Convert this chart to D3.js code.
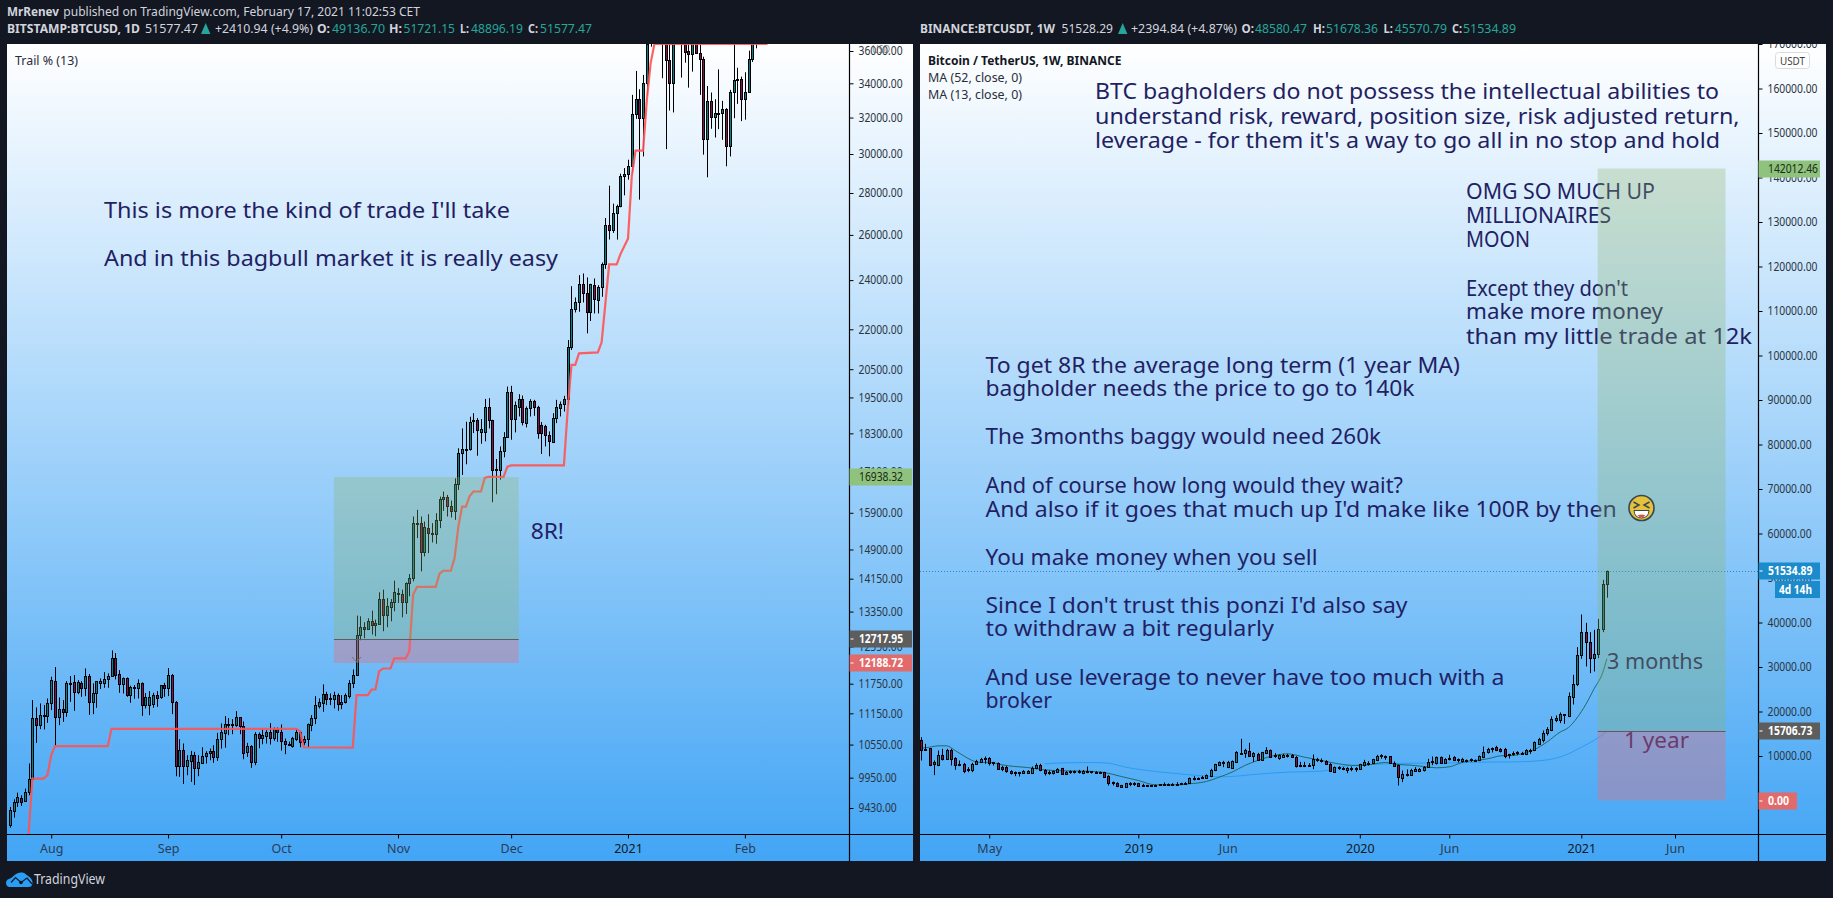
<!DOCTYPE html>
<html><head><meta charset="utf-8">
<style>html,body{margin:0;padding:0;background:#131722;overflow:hidden}svg{display:block}text{font-family:"Noto Sans",sans-serif}</style>
<script src="https://cdn.jsdelivr.net/npm/d3@7/dist/d3.min.js"></script>
</head><body><svg id="c" width="1833" height="898"></svg>
<script>
// ---------- DATA: daily BTCUSD (open, high, low, close), one row per day from dailyStart
const dailyStart = "2020-07-21";
const dailyOHLC = [
[9150,9448,9108,9392],[9381,9577,9271,9537],[9532,9690,9448,9622],[9605,9645,9465,9532],[9549,9759,9532,9707],[9702,10202,9645,9934],[9928,11414,9928,11049],[11049,11267,10582,10925],[10925,11347,10842,11108],[11095,11313,10836,11108],
[11101,11447,10964,11347],[11347,11896,11214,11825],[11797,12101,10538,11069],[11069,11467,10919,11227],[11233,11414,10983,11180],[11180,11804,11082,11756],[11756,11910,11380,11770],[11777,11931,11200,11584],[11584,11825,11535,11777],[11756,11804,11481,11666],
[11666,12072,11495,11910],[11910,11952,11121,11380],[11380,11756,11134,11563],[11563,11804,11260,11797],[11770,11860,11639,11797],[11770,11994,11666,11839],[11853,11966,11666,11910],[11917,12463,11896,12288],[12288,12405,11839,11938],[11945,12036,11563,11749],
[11749,11881,11549,11860],[11860,11881,11481,11522],[11522,11708,11360,11680],[11652,11722,11441,11680],[11652,11839,11447,11756],[11756,11777,11101,11320],[11320,11556,11247,11467],[11320,11597,11115,11467],[11333,11563,11260,11522],[11522,11597,11280,11454],
[11467,11722,11441,11715],[11715,11770,11481,11652],[11659,12079,11495,11924],[11924,11952,11134,11380],[11380,11394,9976,10166],[10166,10651,9964,10457],[10457,10570,9840,10166],[10160,10353,9993,10262],[10250,10433,9876,10360],[10366,10415,9823,10124],
[10124,10353,9976,10238],[10214,10500,10202,10347],[10341,10427,10202,10390],[10396,10476,10262,10439],[10439,10538,10214,10322],[10322,10772,10250,10663],[10657,10951,10476,10778],[10772,11095,10494,10951],[10925,11056,10727,10951],[10925,11036,10746,10951],
[10919,11193,10887,11069],[11069,11075,10746,10912],[10912,10990,10280,10396],[10415,10582,10322,10532],[10519,10538,10124,10232],[10232,10785,10172,10740],[10740,10778,10482,10683],[10676,10842,10557,10721],[10714,10823,10570,10785],[10785,10958,10551,10683],
[10683,10874,10620,10836],[10836,10874,10601,10778],[10778,10932,10439,10620],[10614,10663,10372,10563],[10538,10607,10525,10563],[10525,10695,10494,10670],[10663,10842,10620,10797],[10797,10810,10500,10601],[10601,10714,10538,10663],[10657,10951,10507,10938],
[10925,11115,10804,11056],[11049,11495,10938,11307],[11300,11447,11247,11367],[11360,11735,11180,11535],[11535,11584,11313,11434],[11434,11549,11313,11447],[11427,11584,11247,11515],[11515,11549,11200,11327],[11327,11515,11233,11373],[11367,11549,11347,11515],
[11502,11825,11447,11763],[11756,12050,11659,11924],[11929,13255,11922,12810],[12803,13238,12690,12990],[12990,13100,12735,12945],[12945,13192,12930,13130],[13130,13372,12818,13030],[13038,13161,12780,13076],[13061,13812,13046,13650],[13650,13877,12893,13270],
[13270,13674,12985,13475],[13460,13650,13123,13578],[13578,14100,13356,13820],[13796,13918,13554,13772],[13772,13877,13216,13578],[13570,14058,13293,14040],[14040,14267,13715,14166],[14166,15796,14083,15610],[15585,15983,15203,15610],[15610,15796,14335,14830],
[14830,15657,14718,15500],[15474,15860,14805,15337],[15337,15610,15088,15310],[15310,15889,15052,15685],[15685,16362,15474,16286],[16286,16508,15955,16343],[16343,16411,15796,16086],[16086,16248,15768,15964],[15964,16900,15703,16723],[16723,17823,16557,17665],
[17665,18460,17002,17792],[17781,18680,17325,17812],[17802,18845,17750,18657],[18690,18965,18310,18735],[18745,18800,17590,18417],[18352,18767,17967,18440],[18352,19450,18042,19168],[19168,19475,18460,18723],[18735,18745,16200,17142],[17182,17488,16430,17142],
[17142,17880,16860,17735],[17725,18340,17540,18180],[18180,19880,18150,19680],[19680,19905,18095,18767],[18767,19360,18330,19236],[19190,19612,18855,19440],[19440,19567,18560,18668],[18624,19190,18494,19156],[19156,19440,18855,19372],[19372,19418,18877,19168],
[19168,19214,18125,18298],[18560,18668,17644,18298],[18537,18580,17880,18233],[18244,18363,17570,18040],[18010,18965,17988,18800],[18800,19418,18635,19168],[19134,19360,18855,19270],[19260,19556,19020,19463],[19440,21585,19250,21335],[21335,23745,21209,22787],
[22787,23275,22665,23107],[23100,24212,22693,23816],[23816,24283,23070,23440],[23440,24113,21842,22693],[22693,23844,22325,23816],[23773,24070,22626,23220],[23165,23787,22626,23690],[23718,24760,23303,24675],[24716,26790,24485,26478],[26447,28366,25786,26245],
[26230,27478,26092,27028],[27028,27430,25786,27349],[27349,28975,27300,28870],[28870,29264,27885,28955],[28955,29700,28668,29370],[29370,33310,29007,32190],[32190,34752,31928,33075],[33075,33644,27673,31984],[31984,34507,29873,34003],[34043,37900,33270,36450],
[36600,37800,36277,37300],[38000,40000,37200,39500],[39500,41500,36800,40800],[40800,41900,34306,38000],[38200,39500,30260,35430],[35430,36450,32400,34003],[34003,37600,32290,36700],[37000,38500,36600,38000],[38000,39900,34345,37000],[36700,38000,35260,35960],
[35990,36450,33740,35790],[35790,37800,34710,36800],[36800,37500,35850,35850],[35850,36390,33310,35480],[35480,35640,29965,30790],[30790,33840,28790,32960],[32960,33450,31370,32059],[32059,33055,30890,32250],[32210,34850,31350,32250],[32250,32960,30765,32480],
[32480,32540,29355,30425],[30425,33605,29873,33470],[33470,36450,31965,34210],[34285,34950,32785,34245],[34265,34405,31797,33094],[33055,34670,31880,33490],[33490,36020,33430,35480],[35480,37500,35310,36900],[37000,38500,36170,38000]
];
// Trail % (13) stop line: day offset from dailyStart, and price
const trailDay = [5,6,9,10,11,12,26,27,76,77,78,91,92,95,96,97,98,99,101,102,105,106,107,108,113,114,115,117,118,119,120,121,122,123,125,126,127,131,132,133,147,148,149,150,151,156,157,159,161,162,164,165,166,168,169,170,171,201];
const trailPrice = [9000,9934,9934,9993,10353,10520,10520,10848,10848,10803,10500,10495,11516,11516,11630,11630,12014,12070,12070,12287,12287,12446,13755,13945,13945,14275,14350,14350,14675,15519,16077,16077,16380,16510,16510,16910,16945,16945,17250,17290,17290,19078,20660,20660,21085,21120,21500,24680,24680,25130,25830,28837,30180,30180,33020,35226,36450,36450];
// Weekly BTCUSDT (open, high, low, close), one row per week from weeklyStart
const weeklyStart = "2018-01-15";
const weeklyOHLC = [
[13484,14233,8990,11387],[11387,12735,11237,11536],[11761,11761,7717,7866],[8241,8990,5694,8616],[7866,11237,7717,10263],[10263,11611,8990,9215],[9215,11611,9140,11387],[11387,11611,7866,9215],[9514,9739,6893,8016],[8016,8990,7717,8241],
[8241,8466,6144,6518],[6743,7492,6368,6968],[6893,8466,6368,8241],[8241,9140,8016,8765],[8541,9589,8391,9365],[9215,9889,8241,9514],[9514,9739,7866,8391],[8391,8690,7866,8541],[8391,8541,6893,7043],[7567,7792,6593,7043],
[7492,7717,6219,6518],[6668,6818,5844,6144],[6069,6518,5470,6294],[6294,6443,5395,6069],[6144,6818,5994,6668],[6144,6818,6069,6668],[6144,7642,5994,7342],[7267,8316,7043,8016],[8016,8241,6593,6743],[6893,7043,5619,6144],
[6144,6743,5769,6294],[6219,6743,5844,6518],[6368,7267,6219,7117],[7192,7342,5844,5994],[5994,6593,5844,6443],[6294,6743,5994,6518],[6368,6743,6069,6518],[6368,6893,6069,6518],[6219,6818,5919,6518],[6368,7642,6144,6518],
[6294,6593,6069,6518],[6294,6593,6144,6443],[6443,6518,6144,6294],[6294,6443,5095,5320],[5545,5694,3373,3897],[3897,4272,3373,4122],[3972,4122,2998,3148],[3073,3523,2923,3373],[2998,3972,2923,3822],[3672,4122,3223,3897],
[3672,4122,3298,3897],[3822,3972,3148,3223],[3223,3747,3148,3448],[3298,3523,3223,3373],[3373,3448,3223,3298],[3523,3597,3148,3223],[3448,3672,3373,3597],[3448,4047,3373,3597],[3448,3822,3373,3597],[3523,3897,3373,3672],
[3523,4122,3373,3747],[3597,3972,3448,3897],[3747,4122,3523,3972],[3822,5170,3747,5095],[4870,5470,4496,5095],[4870,5170,4796,5095],[4945,5545,4796,5170],[5020,5844,4870,5619],[5395,7117,5245,6893],[6743,8241,6593,8091],
[7941,8765,7717,8541],[8391,8915,7492,8616],[7417,8915,7267,8541],[7267,8990,7117,8765],[8616,11087,8541,10787],[10413,13858,10263,10638],[10563,11611,9589,11237],[11162,12960,9889,9964],[9889,10862,8690,10563],[10488,10713,8990,9140],
[9140,10937,8990,10787],[10638,11986,10413,11387],[11312,11461,9589,9739],[10263,10638,9589,9964],[9589,10338,9140,10114],[9739,10488,9589,10263],[9964,10488,9664,10263],[10188,10413,9589,9814],[9814,9964,7417,7642],[7717,8690,7492,8016],
[7792,8690,7492,8016],[7792,8391,7567,8016],[8016,10338,7043,9365],[9140,9589,8690,9365],[9140,9439,8541,8840],[8915,9065,8016,8166],[8241,8391,6443,6593],[6443,7642,6368,7492],[7192,7717,6893,7417],[7043,7567,6818,7342],
[6893,7492,6144,7267],[7117,7642,6593,7267],[7117,7492,6443,7267],[7117,8241,6893,8091],[7866,9140,7642,8541],[8091,8840,7866,8466],[8391,9365,8241,9215],[9065,10263,8840,10039],[9889,10413,9365,10114],[9739,10114,9140,9964],
[9889,9889,8241,8466],[8466,8765,7567,7717],[7866,8091,3373,5245],[5020,6743,4122,5844],[5619,6968,5395,5844],[5694,7117,5545,6893],[6593,7492,6443,7117],[6593,7267,6368,6968],[6743,7717,6518,7567],[7492,9365,7342,8690],
[8541,9889,7941,8765],[8391,9889,8091,9664],[9664,9889,8241,8391],[8391,9514,8316,9365],[9290,10263,8990,9589],[9739,9964,8840,9065],[9140,9439,8541,9290],[8915,9589,8541,9215],[8840,9215,8541,9065],[8990,9439,8690,9215],
[8990,9215,8765,9140],[8990,10114,8840,9889],[9664,12136,9514,10937],[10787,11836,10563,11611],[11611,11911,10787,11836],[11911,12286,11087,11237],[11611,11761,10787,11012],[11611,11836,9514,9964],[10116,10491,9442,10341],[10491,11016,10116,10716],
[10566,11091,10191,10791],[10566,10941,10266,10716],[10341,11539,10191,11240],[11089,11615,10491,11390],[11240,13263,11089,13038],[12738,14086,12513,13712],[13487,15734,13038,15210],[15135,16483,14610,16034],[15734,18880,15585,18355],[18131,19105,17607,18430],
[17981,19779,17382,19330],[19180,19330,17232,19330],[18880,24272,18730,23374],[23224,28242,21576,26220],[26070,34459,25696,32736],[32586,41799,31837,37904],[37904,39927,30115,35583],[35658,37830,28617,31987],[31987,38354,28991,32961],[32811,40825,31987,38578],
[38578,49589,37830,48540],[48580.47,51678.36,45570.79,51534.89]
];
// Moving averages: week offset from weeklyStart, and price
const ma13Week = [0,2,4,6,8,10,12,14,16,19,22,25,29,33,39,43,47,51,55,60,63,67,70,73,76,79,82,86,90,94,98,102,105,109,112,115,118,121,124,127,129,131,134,136,139,141,144,147,150,152,154,156,158,160,161];
const ma13Price = [11761,11986,12286,12286,11237,10039,8990,8541,8616,8016,7642,7417,6893,6668,6593,6294,5395,4496,3523,3523,3747,4272,5245,6368,7866,8990,9889,10488,9739,8990,8241,7866,8016,8541,8091,7941,7642,7342,7567,8541,8915,9065,9589,10039,10114,10488,11461,13185,15356,16405,18577,21498,25094,28689,31834];
const ma52Week = [29,34,40,44,48,53,59,65,70,74,78,86,94,100,104,109,116,125,131,140,147,152,155,158,161];
const ma52Price = [8241,8466,8541,8391,7492,6743,6144,5619,5320,5470,5844,6368,6593,7792,8016,8241,8391,8466,8616,8690,9140,10488,11986,13484,15581];
// Tick values and labels
const leftPriceTicks = [36000,34000,32000,30000,28000,26000,24000,22000,20500,19500,18300,17100,15900,14900,14150,13350,12550,11750,11150,10550,9950,9430];
const rightPriceTicks = [170000,160000,150000,140000,130000,120000,110000,100000,90000,80000,70000,60000,50000,40000,30000,20000,10000];
const leftTimeTicks = ["2020-08-01","2020-09-01","2020-10-01","2020-11-01","2020-12-01","2021-01-01","2021-02-01"];
const leftTimeLabels = ["Aug","Sep","Oct","Nov","Dec","2021","Feb"];
const rightTimeTicks = ["2018-05-07","2019-01-07","2019-06-03","2020-01-06","2020-06-01","2021-01-04","2021-06-07"];
const rightTimeLabels = ["May","2019","Jun","2020","Jun","2021","Jun"];
// Position tools (prices and dates)
const leftTrade = {from:"2020-10-15", to:"2020-12-03", target:16938.32, entry:12717.95, stop:12188.72};
const rightTrade = {from:"2021-01-31", to:"2021-08-29", target:142012.46, entry:15706.73, stop:0};
const lastPrice = 51534.89;

// ---------- SCALES
const pd = s => new Date(s+"T12:00:00Z");
const dayMs = 864e5;
const xL = d3.scaleTime().domain([pd("2020-08-01"),pd("2021-02-01")]).range([51.2,51.2+184*3.77]);
const xR = d3.scaleTime().domain([pd("2019-01-07"),pd("2021-01-04")]).range([1138.3,1581.3]);
const yL = d3.scaleLog().domain([36000,9430]).range([51,808]);
const yR = d3.scaleLinear().domain([160000,0]).range([88.5,800.5]);
const dL = i => new Date(+pd(dailyStart)+i*dayMs);
const dR = i => new Date(+pd(weeklyStart)+i*7*dayMs);

// ---------- PANES
const svg = d3.select("#c");
const defs = svg.append("defs");
const grad = defs.append("linearGradient").attr("id","bg").attr("x1",0).attr("x2",0).attr("y1",0).attr("y2",1);
grad.append("stop").attr("offset",0).attr("stop-color","#ffffff");
grad.append("stop").attr("offset",1).attr("stop-color","#42a5f5");
function clip(id,x,y,w,h){defs.append("clipPath").attr("id",id).append("rect").attr("x",x).attr("y",y).attr("width",w).attr("height",h);}
clip("plotL",7,44,842.5,790); clip("plotR",920,44,838,790);
clip("paneL",7,44,906,817); clip("paneR",920,44,906,817);
svg.append("rect").attr("x",7).attr("y",44).attr("width",906).attr("height",817).attr("fill","url(#bg)");
svg.append("rect").attr("x",920).attr("y",44).attr("width",906).attr("height",817).attr("fill","url(#bg)");

const UP="#00838f", DOWN="#880e4f";
function candles(parent,rows,xf,y){
  const g = parent.selectAll("g.k").data(rows).join("g").attr("class","k")
    .attr("transform",(d,i)=>`translate(${Math.round(xf(i))+.5},0)`);
  g.append("line").attr("y1",d=>y(d[1])).attr("y2",d=>y(d[2])).attr("stroke","#000").attr("stroke-width",1);
  g.append("rect").attr("x",-1).attr("width",2)
    .attr("y",d=>Math.round(y(Math.max(d[0],d[3])))+.5)
    .attr("height",d=>Math.max(1,Math.abs(Math.round(y(d[0]))-Math.round(y(d[3])))))
    .attr("fill",d=>d[3]>=d[0]?UP:DOWN).attr("stroke","#000").attr("stroke-width",1);
}
function note(parent,x,base,end,str,size=21){
  parent.append("text").attr("x",x).attr("y",base).attr("font-size",size).attr("fill","#231f63")
    .attr("textLength",end-x).attr("lengthAdjust","spacingAndGlyphs").text(str);
}
function trade(parent,t,xf,y){
  const x0=xf(pd(t.from)),x1=xf(pd(t.to));
  parent.append("rect").attr("x",x0).attr("width",x1-x0).attr("y",y(t.target)).attr("height",y(t.entry)-y(t.target)).attr("fill","#8bb267").attr("fill-opacity",.3);
  parent.append("rect").attr("x",x0).attr("width",x1-x0).attr("y",y(t.entry)).attr("height",y(t.stop)-y(t.entry)).attr("fill","#ea6b77").attr("fill-opacity",.36);
  parent.append("line").attr("x1",x0).attr("x2",x1).attr("y1",Math.round(y(t.entry))+.5).attr("y2",Math.round(y(t.entry))+.5).attr("stroke","#5d5d5d").attr("stroke-width",1);
}

// ---------- LEFT CHART
const L = svg.append("g").attr("clip-path","url(#plotL)");
candles(L,dailyOHLC,i=>xL(dL(i)),yL);
L.append("path").datum(trailDay.map((d,i)=>[d,trailPrice[i]]))
  .attr("d",d3.line().x(d=>xL(dL(d[0]))).y(d=>yL(d[1])))
  .attr("fill","none").attr("stroke","#ff5252").attr("stroke-width",2.2).attr("stroke-opacity",.9);
note(svg,104,218,510,"This is more the kind of trade I'll take",22);
note(svg,104,266,558,"And in this bagbull market it is really easy",22);
note(svg,530.7,539,564,"8R!",22);
trade(L,leftTrade,xL,yL);
L.append("path").attr("d",d3.line()([[352,657],[356.5,662],[361,657]])).attr("fill","none").attr("stroke","#777").attr("stroke-width",1);

// ---------- RIGHT CHART
const R = svg.append("g").attr("clip-path","url(#plotR)");
R.append("line").attr("x1",920).attr("x2",1758).attr("y1",Math.round(yR(lastPrice))+.5).attr("y2",Math.round(yR(lastPrice))+.5)
  .attr("stroke","#1c8bcc").attr("stroke-dasharray","1,2");
const maLine = d3.line().curve(d3.curveMonotoneX).x(d=>xR(dR(d[0]))).y(d=>yR(d[1]));
R.append("path").datum(ma52Week.map((d,i)=>[d,ma52Price[i]])).attr("d",maLine).attr("fill","none").attr("stroke","#2196f3").attr("stroke-opacity",.8).attr("stroke-width",1);
R.append("path").datum(ma13Week.map((d,i)=>[d,ma13Price[i]])).attr("d",maLine).attr("fill","none").attr("stroke","#1b6b6b").attr("stroke-width",1);
candles(R,weeklyOHLC,i=>xR(dR(i)),yR);

[[99,1719,"BTC bagholders do not possess the intellectual abilities to"],
 [123.5,1739.6,"understand risk, reward, position size, risk adjusted return,"],
 [148,1720,"leverage - for them it's a way to go all in no stop and hold"]].forEach(a=>note(svg,1095,a[0],a[1],a[2]));
[[199,1655,"OMG SO MUCH UP"],[223,1611,"MILLIONAIRES"],[247,1530,"MOON"],[296,1628,"Except they don't"],[319,1663,"make more money"],[344,1752,"than my little trade at 12k"]]
 .forEach(a=>note(svg,1466,a[0],a[1],a[2]));
[[373,1460,"To get 8R the average long term (1 year MA)"],[396,1414.5,"bagholder needs the price to go to 140k"],[444,1381,"The 3months baggy would need 260k"],
 [493,1403,"And of course how long would they wait?"],[517,1616.7,"And also if it goes that much up I'd make like 100R by then"],[565,1317.5,"You make money when you sell"],
 [612.5,1407.5,"Since I don't trust this ponzi I'd also say"],[636,1274,"to withdraw a bit regularly"],[685,1504.5,"And use leverage to never have too much with a"],[708,1052,"broker"]]
 .forEach(a=>note(svg,985.5,a[0],a[1],a[2]));
note(svg,1607,669,1703,"3 months",22);
note(svg,1624,748,1689,"1 year",22);
// position box lies over the candles and the notes
trade(svg.append("g").attr("clip-path","url(#plotR)"),rightTrade,xR,yR);
// laughing-face emoji, drawn
const E = svg.append("g").attr("transform","translate(1641.5,508)");
E.append("circle").attr("r",12.5).attr("fill","#e6c23c").attr("stroke","#37474f").attr("stroke-width",1.6);
E.append("path").attr("d","M-8,-6L-2.5,-3L-8,0M8,-6L2.5,-3L8,0").attr("fill","none").attr("stroke","#37474f").attr("stroke-width",1.5);
E.append("path").attr("d","M-7.5,2.5H7.5Q7,10 0,10Q-7,10 -7.5,2.5Z").attr("fill","#fff").attr("stroke","#37474f").attr("stroke-width",1);
E.append("path").attr("d","M-4,7.5Q0,5.5 4,7.5Q2,9.6 0,9.6Q-2,9.6 -4,7.5Z").attr("fill","#e0533d");

// ---------- AXES
const fmtP = d3.format(".2f");
function priceAxis(clipId,x,y,ticks){
  const a = svg.append("g").attr("clip-path",`url(#${clipId})`).append("g").attr("transform",`translate(${x},0)`)
    .call(d3.axisRight(y).tickValues(ticks).tickSize(4).tickPadding(5).tickFormat(fmtP));
  a.select(".domain").remove();
  a.selectAll("line").attr("stroke","#000");
  a.selectAll("text").attr("font-size",12).attr("fill","#2b3440").attr("font-family","Noto Sans")
    .attr("textLength",function(){return this.textContent.length*5.9-3.1;}).attr("lengthAdjust","spacingAndGlyphs");
}
function timeAxis(clipId,x,ticks,labels){
  const a = svg.append("g").attr("clip-path",`url(#${clipId})`).append("g").attr("transform","translate(0,834.5)")
    .call(d3.axisBottom(x).tickValues(ticks.map(pd)).tickSize(4).tickFormat((d,i)=>labels[i]));
  a.select(".domain").remove();
  a.selectAll("line").attr("stroke","#000");
  a.selectAll("text").attr("font-size",12.5).attr("y",18.5).attr("dy",0).attr("font-family","Noto Sans")
    .attr("fill",(d,i)=>/^\d/.test(labels[i])?"#131722":"#2b3c55");
}
priceAxis("paneL",849.5,yL,leftPriceTicks);
priceAxis("paneR",1758.5,yR,rightPriceTicks);
timeAxis("paneL",xL,leftTimeTicks,leftTimeLabels);
timeAxis("paneR",xR,rightTimeTicks,rightTimeLabels);
[[849.5,44,849.5,861],[7,834,913,834],[1758.5,44,1758.5,861],[920,834,1826,834]].forEach(l=>
  svg.append("line").attr("x1",l[0]).attr("y1",l[1]===834?834.5:l[1]).attr("x2",l[2]).attr("y2",l[3]===834?834.5:l[3]).attr("stroke","#000").attr("stroke-width",1.2));

// price labels on the axes
function tag(x,y,w,val,bg,fg,bold=true,tw=49){
  svg.append("rect").attr("x",x).attr("y",Math.round(y)-8.5).attr("width",w).attr("height",17).attr("fill",bg);
  if(fg!=="#1b2a1b") svg.append("line").attr("x1",x+1).attr("x2",x+4).attr("y1",Math.round(y)).attr("y2",Math.round(y)).attr("stroke",fg);
  svg.append("text").attr("x",x+9.5).attr("y",Math.round(y)+4.4).attr("font-size",12).attr("font-weight",bold?700:400).attr("fill",fg)
    .attr("textLength",tw).attr("lengthAdjust","spacingAndGlyphs").text(val);
}
tag(849.5,yL(16938.32),62.5,"16938.32","#8fc27c","#1b2a1b",false,44);
tag(849.5,yL(12717.95),62.5,"12717.95","#5d5d5d","#fff",true,44);
tag(849.5,yL(12188.72),62.5,"12188.72","#e26a6a","#fff",true,44);
tag(1758.5,yR(142012.46),61.5,"142012.46","#8fc27c","#1b2a1b",false,50);
tag(1758.5,yR(lastPrice),61.5,"51534.89","#1c8bcc","#fff",true,44.5);
tag(1758.5,yR(15706.73),61.5,"15706.73","#5d5d5d","#fff",true,44.5);
tag(1758.5,yR(0),38.5,"0.00","#e26a6a","#fff",true,21);
svg.append("rect").attr("x",1775).attr("y",581).attr("width",45).attr("height",17).attr("fill","#1c8bcc");
svg.append("text").attr("x",1779).attr("y",594).attr("font-size",12).attr("font-weight",700).attr("fill","#fff").attr("textLength",33).attr("lengthAdjust","spacingAndGlyphs").text("4d 14h");
svg.append("text").attr("x",872).attr("y",53).attr("font-size",11).attr("fill","#555").attr("fill-opacity",.75).attr("textLength",18).attr("lengthAdjust","spacingAndGlyphs").text("USD");
svg.append("rect").attr("x",1775.5).attr("y",52.5).attr("width",34).attr("height",16).attr("rx",3).attr("fill","#fff").attr("fill-opacity",.85).attr("stroke","#d6dce2");
svg.append("text").attr("x",1780).attr("y",64.5).attr("font-size",11).attr("fill","#3c4043").attr("textLength",25).attr("lengthAdjust","spacingAndGlyphs").text("USDT");

// ---------- LEGENDS AND HEADERS
function seg(x,base,end,str,fill,bold=false,size=12.5){
  svg.append("text").attr("x",x).attr("y",base).attr("font-size",size).attr("font-weight",bold?700:400).attr("fill",fill)
    .attr("textLength",end-x).attr("lengthAdjust","spacingAndGlyphs").text(str);
}
const W="#d1d4dc",T="#26a69a";
seg(7,16,59,"MrRenev",W,true);
seg(63.3,16,420,"published on TradingView.com, February 17, 2021 11:02:53 CET",W);
[[7,140,"BITSTAMP:BTCUSD, 1D",W,true],[145,198,"51577.47",W],[215,313,"+2410.94 (+4.9%)",W],[317,330,"O:",W,true],[332,385,"49136.70",T],
 [389,402,"H:",W,true],[403.5,455,"51721.15",T],[460,469,"L:",W,true],[471,523,"48896.19",T],[528,538,"C:",W,true],[540,592,"51577.47",T],
 [920,1055,"BINANCE:BTCUSDT, 1W",W,true],[1061.5,1113,"51528.29",W],[1131,1237,"+2394.84 (+4.87%)",W],[1241.5,1254,"O:",W,true],[1255,1307,"48580.47",T],
 [1313,1325,"H:",W,true],[1326,1378,"51678.36",T],[1383.6,1393,"L:",W,true],[1394.7,1447,"45570.79",T],[1452,1462,"C:",W,true],[1463,1516,"51534.89",T]]
 .forEach(a=>seg(a[0],33,a[1],a[2],a[3],a[4]));
svg.selectAll("path.up").data([201,1118]).join("path").attr("class","up").attr("fill",T)
  .attr("d",d=>`M${d},34L${d+4.7},23L${d+9.4},34Z`);
seg(15,65,78,"Trail % (13)","#2a2e39",false,12);
seg(928,65,1121.5,"Bitcoin / TetherUS, 1W, BINANCE","#131722",true,12);
seg(928,82,1022,"MA (52, close, 0)","#2a2e39",false,12);
seg(928,99,1022,"MA (13, close, 0)","#2a2e39",false,12);

// TradingView logo
const logo = svg.append("g").attr("transform","translate(6,871)");
logo.append("path").attr("d","M3,16C-1,15 -1,9 3,8C6,7 8,4 11,2.5C14,1 18,1 20,3.5C24,6 28,9 26,14C25.5,16 23,16 21,16Z").attr("fill","#2a9df4");
logo.append("path").attr("d","M5,11.5L9.5,6.5L15,11.5L21,7L26,13").attr("fill","none").attr("stroke","#131722").attr("stroke-width",1.2);
logo.append("circle").attr("cx",15).attr("cy",11.5).attr("r",1.8).attr("fill","#131722");
seg(34,884,105,"TradingView","#d1d4dc",false,15);
</script></body></html>
